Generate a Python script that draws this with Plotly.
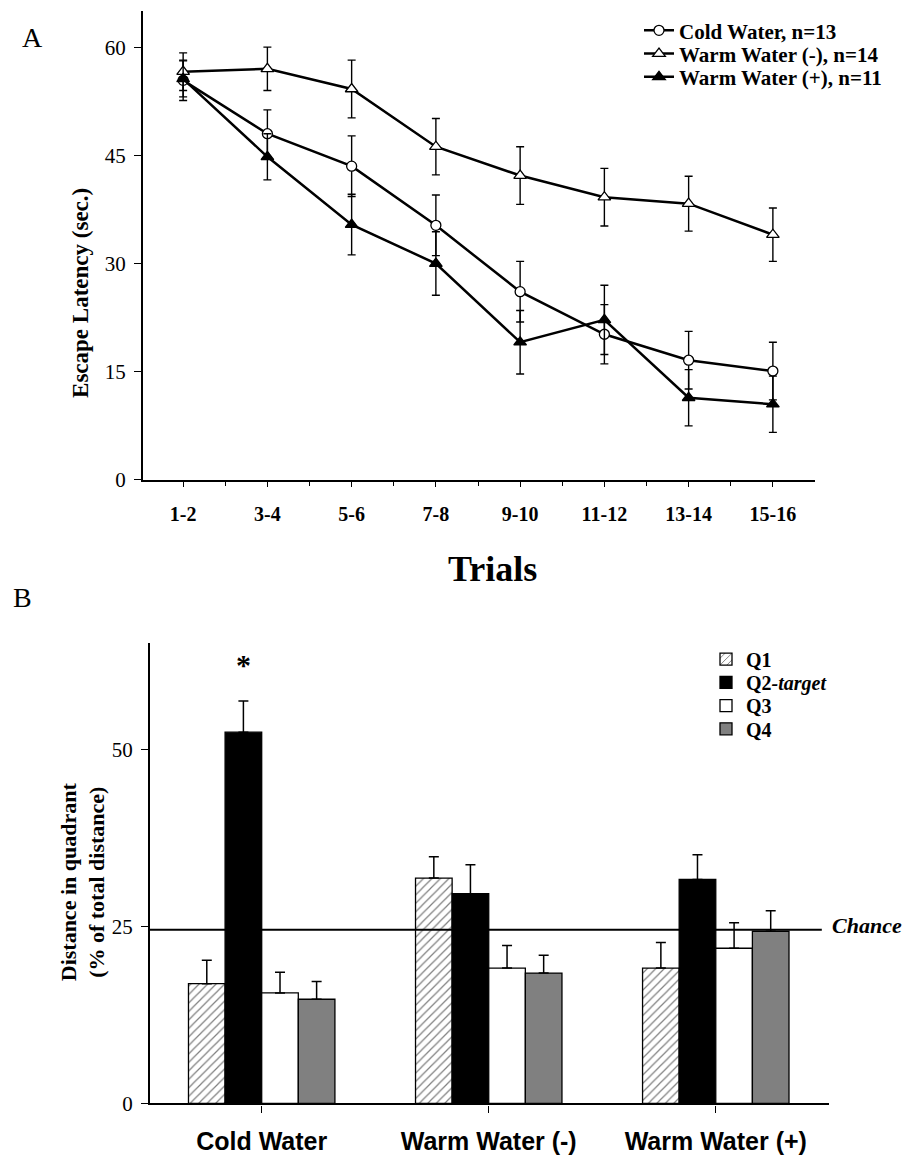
import plotly.graph_objects as go

# ---------------- Panel A data ----------------
trials = ["1-2", "3-4", "5-6", "7-8", "9-10", "11-12", "13-14", "15-16"]
cold_mean = [55.4, 48.0, 43.5, 35.3, 26.1, 20.2, 16.6, 15.1]
cold_se = [2.8, 3.3, 4.2, 4.2, 4.2, 4.1, 4.0, 4.0]
warm_minus_mean = [56.6, 57.0, 54.2, 46.2, 42.2, 39.2, 38.3, 34.0]
warm_minus_se = [2.6, 3.0, 4.0, 3.9, 4.0, 4.0, 3.8, 3.7]
warm_plus_mean = [55.6, 44.8, 35.4, 30.0, 19.1, 22.2, 11.4, 10.5]
warm_plus_se = [2.5, 3.2, 4.2, 4.4, 4.4, 4.8, 3.9, 3.9]
latency_ticks = [0, 15, 30, 45, 60]

# ---------------- Panel B data ----------------
groups = ["Cold Water", "Warm Water (-)", "Warm Water (+)"]
q1 = [16.9, 31.8, 19.1]
q1_se = [3.3, 3.0, 3.6]
q2 = [52.4, 29.6, 31.6]
q2_se = [4.4, 4.1, 3.5]
q3 = [15.6, 19.1, 21.9]
q3_se = [2.9, 3.2, 3.6]
q4 = [14.7, 18.4, 24.3]
q4_se = [2.5, 2.5, 2.9]
distance_ticks = [0, 25, 50]
CHANCE = 24.5

W, H = 906, 1157
SERIF = "Liberation Serif, Times New Roman, serif"
SANS = "Liberation Sans, Arial, sans-serif"

x_pos = list(range(len(trials)))


def px_x(p):
    return p / W


def px_y(p):
    return 1 - p / H


fig = go.Figure()


def line_trace(y, se, name, symbol, fill, legend_id):
    return go.Scatter(
        x=x_pos, y=y, name=name, mode="lines+markers",
        line=dict(color="black", width=2.5),
        marker=dict(symbol=symbol, size=11 if "triangle" in symbol else 10,
                    color=fill, line=dict(color="black", width=1.3)),
        error_y=dict(type="data", array=se, visible=True, color="black",
                     thickness=1.4, width=4),
        xaxis="x", yaxis="y", legend=legend_id,
    )


fig.add_trace(line_trace(cold_mean, cold_se, "Cold Water, n=13", "circle", "white", "legend"))
fig.add_trace(line_trace(warm_minus_mean, warm_minus_se, "Warm Water (-), n=14", "triangle-up", "white", "legend3"))
fig.add_trace(line_trace(warm_plus_mean, warm_plus_se, "Warm Water (+), n=11", "triangle-up", "black", "legend4"))


def bar_trace(y, se, name, color, legend_id, pattern=None):
    return go.Bar(
        x=groups, y=y, name=name,
        marker=dict(color=color, line=dict(color="black", width=1.3),
                    pattern=pattern),
        error_y=dict(type="data", array=se, arrayminus=[0] * len(se),
                     symmetric=False, visible=True, color="black",
                     thickness=1.5, width=5),
        xaxis="x2", yaxis="y2", legend=legend_id,
    )


fig.add_trace(bar_trace(q1, q1_se, "Q1", "white", "legend2",
                        dict(shape="/", fgcolor="black", bgcolor="white",
                             size=6, solidity=0.2)))
fig.add_trace(bar_trace(q2, q2_se, "Q2<i>-target</i>", "black", "legend5"))
fig.add_trace(bar_trace(q3, q3_se, "Q3", "white", "legend6"))
fig.add_trace(bar_trace(q4, q4_se, "Q4", "#808080", "legend7"))

legA_font = dict(family=SERIF, size=21, color="black", weight="bold")
legB_font = dict(family=SERIF, size=20, color="black", weight="bold")


def leg(xp, yp, font):
    return dict(x=px_x(xp), y=px_y(yp), xanchor="left", yanchor="middle",
                font=font, bgcolor="rgba(0,0,0,0)", itemwidth=30,
                borderwidth=0)


fig.update_layout(
    width=W, height=H,
    margin=dict(l=0, r=0, t=0, b=0),
    paper_bgcolor="white", plot_bgcolor="white",
    barmode="group", bargap=0.355, bargroupgap=0,
    xaxis=dict(
        domain=[px_x(142.7), px_x(815)], anchor="y",
        range=[-0.48, 7.5], tickmode="array", tickvals=x_pos, ticktext=trials,
        showline=True, linecolor="black", linewidth=1.5,
        ticks="outside", ticklen=5, tickwidth=1.3, tickcolor="black",
        minor=dict(tickmode="array", tickvals=[i + 0.5 for i in x_pos[:-1]],
                   ticks="outside", ticklen=4, tickwidth=1.2, tickcolor="black"),
        tickfont=dict(family=SERIF, size=20, color="black", weight="bold"),
        ticklabelstandoff=10,
        showgrid=False, zeroline=False,
    ),
    yaxis=dict(
        domain=[px_y(485), px_y(11.2)], anchor="x",
        range=[0, 65], tickmode="array", tickvals=latency_ticks,
        showline=True, linecolor="black", linewidth=1.5,
        ticks="outside", ticklen=7, tickwidth=1.3, tickcolor="black",
        tickfont=dict(family=SERIF, size=21, color="black"),
        ticklabelstandoff=4,
        showgrid=False, zeroline=False,
    ),
    xaxis2=dict(
        domain=[px_x(150), px_x(829.3)], anchor="y2",
        type="category", categoryorder="array", categoryarray=groups,
        range=[-0.492, 2.5],
        showline=True, linecolor="black", linewidth=2.2,
        ticks="outside", ticklen=7, tickwidth=1.3, tickcolor="black",
        tickfont=dict(family=SANS, size=25, color="black", weight="bold"),
        ticklabelstandoff=7,
        showgrid=False, zeroline=False,
    ),
    yaxis2=dict(
        domain=[px_y(1115), px_y(649.6)], anchor="x2",
        range=[0, 65], tickmode="array", tickvals=distance_ticks,
        showline=True, linecolor="black", linewidth=2.2,
        ticks="outside", ticklen=7, tickwidth=1.3, tickcolor="black",
        tickfont=dict(family=SERIF, size=21, color="black"),
        ticklabelstandoff=4,
        showgrid=False, zeroline=False,
    ),
    legend=leg(639, 31, legA_font),
    legend3=leg(639, 54.5, legA_font),
    legend4=leg(639, 78, legA_font),
    legend2=leg(706, 666, legB_font),
    legend5=leg(706, 689.5, legB_font),
    legend6=leg(706, 713, legB_font),
    legend7=leg(706, 736.5, legB_font),
    showlegend=True,
)

fig.add_shape(type="line", xref="x2", yref="y2",
              x0=-0.492, x1=2.467, y0=CHANCE, y1=CHANCE,
              line=dict(color="black", width=2))

annos = [
    dict(text="A", x=px_x(32), y=px_y(38), font=dict(family=SERIF, size=28)),
    dict(text="B", x=px_x(22), y=px_y(604), font=dict(family=SERIF, size=28)),
    dict(text="<b>Trials</b>", x=px_x(492), y=px_y(575),
         font=dict(family=SERIF, size=36)),
    dict(text="<b>Escape Latency (sec.)</b>", x=px_x(81), y=px_y(296),
         textangle=-90, font=dict(family=SERIF, size=23)),
    dict(text="<b>Distance in quadrant<br>(% of total distance)</b>",
         x=px_x(82.5), y=px_y(891), textangle=-90,
         font=dict(family=SERIF, size=22)),
]
for a in annos:
    a["font"]["color"] = "black"
    fig.add_annotation(xref="paper", yref="paper", showarrow=False,
                       xanchor="center", yanchor="middle", **a)

fig.add_annotation(xref="x2", yref="y2", x=groups[0], y=62.0, xshift=-18,
                   text="<b>*</b>", showarrow=False,
                   font=dict(family=SERIF, size=30, color="black"))
fig.add_annotation(xref="paper", yref="y2", x=px_x(904), y=CHANCE,
                   xanchor="right", yanchor="middle", yshift=4,
                   text="<b><i>Chance</i></b>", showarrow=False,
                   font=dict(family=SERIF, size=22, color="black"))

fig.write_html(
    "out.html",
    config={"displayModeBar": False},
    post_script="document.body.style.margin='0';"
                "document.body.style.overflow='hidden';",
)
